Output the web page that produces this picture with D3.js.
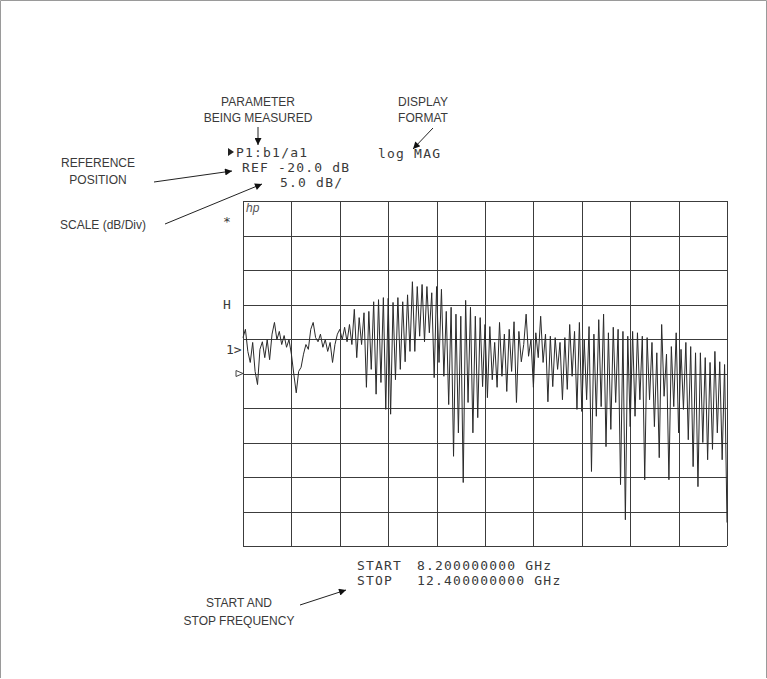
<!DOCTYPE html>
<html>
<head>
<meta charset="utf-8">
<script src="https://cdn.jsdelivr.net/npm/d3@7"></script>
<style>
  html, body { margin: 0; padding: 0; background: #fff; }
  svg { display: block; }
  .lbl { font-family: "Liberation Sans", Arial, sans-serif; font-size: 12px; fill: #3a3a3a; }
  .mono { font-family: "DejaVu Sans Mono", monospace; font-size: 13px; fill: #3a3a3a; letter-spacing: 1.2px; }
</style>
</head>
<body>
<svg id="chart" width="767" height="679"></svg>
<script>
// ---- data (magnitude in dB, b1/a1, 201 sweep points from 8.2 to 12.4 GHz) ----
const startGHz = 8.2;
const stopGHz = 12.4;
const refLevel = -20;     // dB, REF -20.0 dB
const scalePerDiv = 5;    // dB/div
const numDivsY = 10;
const numDivsX = 10;

const magDb = [
  -14.8, -13.6, -16.8, -18.4, -15.5, -19.7, -21.6, -16.5, -15.4, -17.7, -15.1, -18.0, -14.3, -12.6, -15.1, -13.9, -15.8, -14.5, -16.2, -15.1, -17.2,
  -20.1, -22.8, -19.7, -19.1, -17.2, -15.8, -16.5, -13.6, -12.6, -14.8, -15.4, -14.3, -16.2, -15.1, -16.8, -15.5, -18.4, -15.8, -14.3, -13.6,
  -15.1, -13.3, -15.4, -12.9, -15.8, -10.7, -17.7, -11.9, -15.8, -11.2, -22.0, -11.0, -19.4, -9.6, -23.0, -9.3, -21.3, -9.0, -25.2, -9.1,
  -25.9, -9.7, -20.9, -9.0, -19.4, -9.6, -18.3, -8.6, -16.8, -6.7, -16.8, -7.4, -14.6, -7.1, -15.4, -7.4, -14.1, -8.3, -20.6, -7.4,
  -18.4, -7.8, -20.4, -11.0, -24.5, -10.4, -32.0, -11.4, -28.6, -11.7, -35.8, -9.4, -24.2, -10.4, -28.6, -11.7, -26.4, -11.9, -21.9, -12.9,
  -23.5, -13.2, -20.9, -15.5, -22.0, -12.6, -20.4, -14.3, -22.6, -13.6, -19.7, -12.5, -24.2, -13.9, -18.3, -15.8, -11.4, -17.5, -15.1, -22.0,
  -14.1, -17.7, -11.7, -18.4, -14.3, -24.1, -14.6, -21.9, -14.8, -19.4, -15.5, -23.8, -14.8, -22.3, -12.9, -20.4, -13.9, -25.2, -12.6, -25.5,
  -15.1, -23.8, -13.2, -34.2, -14.3, -26.2, -12.2, -24.8, -11.4, -30.6, -14.1, -28.1, -13.3, -24.2, -13.6, -36.1, -13.9, -41.2, -14.6, -27.7,
  -13.9, -26.2, -14.1, -23.8, -14.6, -35.4, -14.8, -23.8, -15.5, -27.7, -17.0, -32.2, -12.9, -23.3, -17.2, -35.4, -16.1, -24.8, -14.1, -28.6,
  -16.5, -25.2, -15.5, -29.6, -16.1, -33.5, -17.0, -36.4, -17.0, -30.0, -17.7, -32.5, -18.4, -31.0, -16.8, -28.6, -18.3, -32.5, -18.7, -41.6
];

const headerLines = ["P1:b1/a1", "REF -20.0 dB", "5.0 dB/"];
const formatLabel = "log MAG";
const freqLines = [["START", "8.200000000 GHz"], ["STOP", "12.400000000 GHz"]];

// ---- layout ----
const svg = d3.select("#chart");
const plot = { left: 243, right: 727, top: 201, bottom: 546 };

const yTop = refLevel + scalePerDiv * numDivsY / 2;
const yBottom = refLevel - scalePerDiv * numDivsY / 2;

const x = d3.scaleLinear().domain([startGHz, stopGHz]).range([plot.left, plot.right]);
const y = d3.scaleLinear().domain([yBottom, yTop]).range([plot.bottom, plot.top]);

const freqs = magDb.map((_, i) => startGHz + i * (stopGHz - startGHz) / (magDb.length - 1));

// page frame
svg.append("path")
  .attr("d", "M0.5,678 V0.5 H766.5 V678")
  .attr("fill", "none").attr("stroke", "#9a9a9a").attr("stroke-width", 1);

// arrow marker
const defs = svg.append("defs");
defs.append("marker")
  .attr("id", "ah").attr("viewBox", "0 0 10 10")
  .attr("refX", 10).attr("refY", 5)
  .attr("markerWidth", 15).attr("markerHeight", 7)
  .attr("markerUnits", "userSpaceOnUse")
  .attr("orient", "auto")
  .append("path").attr("d", "M0,0 L10,5 L0,10 Z").attr("fill", "#111");

// grid via axes
const xTicks = d3.range(numDivsX + 1).map(i => startGHz + i * (stopGHz - startGHz) / numDivsX);
const yTicks = d3.range(numDivsY + 1).map(i => yBottom + i * scalePerDiv);

const gx = svg.append("g")
  .attr("transform", `translate(0,${plot.bottom})`)
  .call(d3.axisBottom(x).tickValues(xTicks).tickSize(-(plot.bottom - plot.top)).tickSizeOuter(0).tickFormat(""));
const gy = svg.append("g")
  .attr("transform", `translate(${plot.left},0)`)
  .call(d3.axisLeft(y).tickValues(yTicks).tickSize(-(plot.right - plot.left)).tickSizeOuter(0).tickFormat(""));
[gx, gy].forEach(g => {
  g.select(".domain").remove();
  g.selectAll(".tick line").attr("stroke", "#3c3c3c").attr("stroke-width", 1).attr("shape-rendering", "crispEdges");
});

// trace
const line = d3.line().x((d, i) => x(freqs[i])).y(d => y(d));
svg.append("path")
  .datum(magDb)
  .attr("d", line)
  .attr("fill", "none")
  .attr("stroke", "#2a2a2a")
  .attr("stroke-width", 1)
  .attr("stroke-linejoin", "miter");

// hp logo
svg.append("text").attr("x", plot.left + 3).attr("y", plot.top + 11)
  .attr("font-family", "Liberation Sans, Arial, sans-serif").attr("font-style", "italic")
  .attr("font-size", 12).attr("fill", "#555").text("hp");

// left side markers
svg.append("text").attr("class", "mono").attr("x", 223).attr("y", 226).style("letter-spacing", "0px").text("*");
svg.append("text").attr("class", "mono").attr("x", 223).attr("y", y(-10) + 4).style("letter-spacing", "0px").text("H");
svg.append("text").attr("class", "mono").attr("x", 226).attr("y", 354).style("letter-spacing", "0px").text("1>");
const ry = y(refLevel);
svg.append("path")
  .attr("d", `M236,${ry - 3} L243,${ry} L236,${ry + 3} Z`)
  .attr("fill", "#fff").attr("stroke", "#444").attr("stroke-width", 1);

// header block (instrument annotations)
svg.append("path").attr("d", "M228,148 L234,152 L228,156 Z").attr("fill", "#222");
svg.append("text").attr("class", "mono").attr("x", 236).attr("y", 157).text(headerLines[0]);
svg.append("text").attr("class", "mono").attr("x", 242).attr("y", 172).text(headerLines[1]);
svg.append("text").attr("class", "mono").attr("x", 280).attr("y", 187).text(headerLines[2]);
svg.append("text").attr("class", "mono").attr("x", 378).attr("y", 158).text(formatLabel);

// start / stop
freqLines.forEach((row, i) => {
  svg.append("text").attr("class", "mono").attr("x", 357).attr("y", 570 + i * 15).text(row[0]);
  svg.append("text").attr("class", "mono").attr("x", 417).attr("y", 570 + i * 15).text(row[1]);
});

// callout labels
const labels = [
  { t: "PARAMETER", x: 258, y: 106, a: "middle" },
  { t: "BEING MEASURED", x: 258, y: 122, a: "middle" },
  { t: "DISPLAY", x: 423, y: 106, a: "middle" },
  { t: "FORMAT", x: 423, y: 122, a: "middle" },
  { t: "REFERENCE", x: 98, y: 167, a: "middle" },
  { t: "POSITION", x: 98, y: 184, a: "middle" },
  { t: "SCALE (dB/Div)", x: 60, y: 229, a: "start" },
  { t: "START AND", x: 239, y: 607, a: "middle" },
  { t: "STOP FREQUENCY", x: 239, y: 625, a: "middle" }
];
labels.forEach(l => {
  svg.append("text").attr("class", "lbl").attr("x", l.x).attr("y", l.y)
    .attr("text-anchor", l.a).text(l.t);
});

// callout arrows
const arrows = [
  [258, 127, 258, 145],
  [433, 128, 413, 149],
  [154, 182, 232, 171],
  [165, 224, 262, 184],
  [300, 605, 346, 590]
];
arrows.forEach(a => {
  svg.append("line").attr("x1", a[0]).attr("y1", a[1]).attr("x2", a[2]).attr("y2", a[3])
    .attr("stroke", "#222").attr("stroke-width", 1).attr("marker-end", "url(#ah)");
});
</script>
</body>
</html>
